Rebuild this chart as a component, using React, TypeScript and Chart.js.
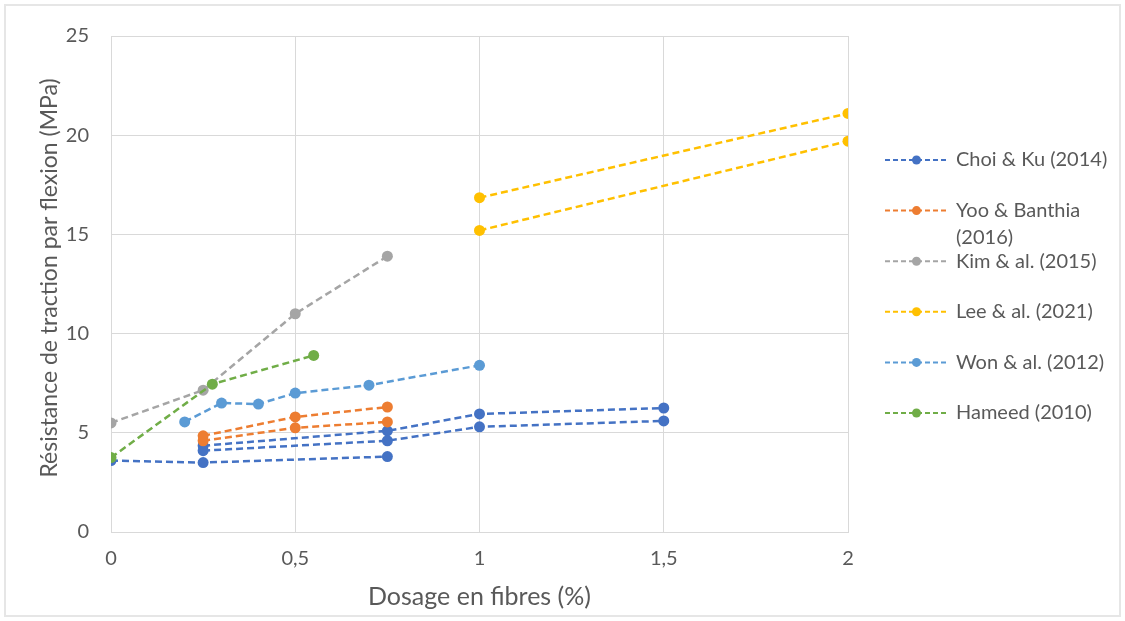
import React, { useEffect, useRef } from 'react';
import { Chart, registerables } from 'chart.js';

Chart.register(...registerables);

// ---- Data ----
const xTickValues = [0, 0.5, 1, 1.5, 2];
const yTickValues = [0, 5, 10, 15, 20, 25];

const xAxisTitle = 'Dosage en fibres (%)';
const yAxisTitle = 'Résistance de traction par flexion (MPa)';

const studyNames = [
  'Choi & Ku (2014)',
  'Yoo & Banthia (2016)',
  'Kim & al. (2015)',
  'Lee & al. (2021)',
  'Won & al. (2012)',
  'Hameed (2010)',
];
const studyColors = ['#4472C4', '#ED7D31', '#A5A5A5', '#FFC000', '#5B9BD5', '#70AD47'];

const choiKuDosage1 = [0, 0.25, 0.75];
const choiKuStrength1 = [3.6, 3.5, 3.8];
const choiKuDosage2 = [0.25, 0.75, 1, 1.5];
const choiKuStrength2 = [4.1, 4.6, 5.3, 5.6];
const choiKuDosage3 = [0.25, 0.75, 1, 1.5];
const choiKuStrength3 = [4.35, 5.1, 5.95, 6.25];

const yooDosage1 = [0.25, 0.5, 0.75];
const yooStrength1 = [4.85, 5.8, 6.3];
const yooDosage2 = [0.25, 0.5, 0.75];
const yooStrength2 = [4.6, 5.25, 5.55];

const kimDosage = [0, 0.25, 0.5, 0.75];
const kimStrength = [5.5, 7.15, 11.0, 13.9];

const leeDosage1 = [1, 2];
const leeStrength1 = [16.85, 21.1];
const leeDosage2 = [1, 2];
const leeStrength2 = [15.2, 19.7];

const wonDosage = [0.2, 0.3, 0.4, 0.5, 0.7, 1];
const wonStrength = [5.55, 6.5, 6.45, 7.0, 7.4, 8.4];

const hameedDosage = [0, 0.275, 0.55];
const hameedStrength = [3.75, 7.45, 8.9];

const seriesList: { study: number; x: number[]; y: number[] }[] = [
  { study: 0, x: choiKuDosage1, y: choiKuStrength1 },
  { study: 0, x: choiKuDosage2, y: choiKuStrength2 },
  { study: 0, x: choiKuDosage3, y: choiKuStrength3 },
  { study: 1, x: yooDosage1, y: yooStrength1 },
  { study: 1, x: yooDosage2, y: yooStrength2 },
  { study: 2, x: kimDosage, y: kimStrength },
  { study: 3, x: leeDosage1, y: leeStrength1 },
  { study: 3, x: leeDosage2, y: leeStrength2 },
  { study: 4, x: wonDosage, y: wonStrength },
  { study: 5, x: hameedDosage, y: hameedStrength },
];

const FONT = 'Lato, "Open Sans", "DejaVu Sans", sans-serif';
const TEXT_COLOR = '#595959';
const GRID_COLOR = '#d9d9d9';

const fmt = (v: number) => String(v).replace('.', ',');

const yTitlePlugin = {
  id: 'yTitle',
  afterDraw(chart: any) {
    const ctx: CanvasRenderingContext2D = chart.ctx;
    const area = chart.chartArea;
    ctx.save();
    ctx.font = `23px ${FONT}`;
    ctx.fillStyle = TEXT_COLOR;
    ctx.textAlign = 'center';
    ctx.textBaseline = 'middle';
    ctx.translate(area.left - 61, (area.top + area.bottom) / 2 - 6);
    ctx.rotate(-Math.PI / 2);
    ctx.fillText(yAxisTitle, 0, 0);
    ctx.restore();
  },
};

const sideLegend = {
  id: 'sideLegend',
  afterDraw(chart: any) {
    const ctx: CanvasRenderingContext2D = chart.ctx;
    const area = chart.chartArea;
    const lineX0 = area.right + 37;
    const lineX1 = area.right + 100;
    const markX = (lineX0 + lineX1) / 2;
    const textX = area.right + 108;
    const maxTextW = 158;
    const startY = 160;
    const stepY = 50.6;
    const lineH = 27;
    ctx.save();
    ctx.font = `20px ${FONT}`;
    ctx.textBaseline = 'middle';
    ctx.textAlign = 'left';
    studyNames.forEach((name, i) => {
      const y = startY + i * stepY;
      const c = studyColors[i];
      ctx.strokeStyle = c;
      ctx.lineWidth = 2;
      ctx.setLineDash([5, 3]);
      ctx.beginPath();
      ctx.moveTo(lineX0, y);
      ctx.lineTo(lineX1, y);
      ctx.stroke();
      ctx.setLineDash([]);
      ctx.fillStyle = c;
      ctx.beginPath();
      ctx.arc(markX, y, 4.5, 0, Math.PI * 2);
      ctx.fill();
      const words = name.split(' ');
      const lines: string[] = [];
      let cur = '';
      words.forEach((w) => {
        const test = cur ? cur + ' ' + w : w;
        if (ctx.measureText(test).width > maxTextW && cur) {
          lines.push(cur);
          cur = w;
        } else cur = test;
      });
      if (cur) lines.push(cur);
      ctx.fillStyle = TEXT_COLOR;
      lines.forEach((ln, k) => ctx.fillText(ln, textX, y + k * lineH));
    });
    ctx.restore();
  },
};

export default function App() {
  const canvasRef = useRef<HTMLCanvasElement | null>(null);

  useEffect(() => {
    if (!canvasRef.current) return;
    const datasets = seriesList.map((s) => ({
      label: studyNames[s.study],
      data: s.x.map((xv, i) => ({ x: xv, y: s.y[i] })),
      showLine: true,
      borderColor: studyColors[s.study],
      backgroundColor: studyColors[s.study],
      borderWidth: 2.5,
      borderDash: [7, 4],
      pointRadius: 5.5,
      pointHoverRadius: 5.5,
      pointBorderWidth: 0,
      order: 10 - s.study,
    }));
    const chart = new Chart(canvasRef.current, {
      type: 'scatter',
      data: { datasets },
      options: {
        animation: false,
        responsive: true,
        maintainAspectRatio: false,
        layout: { padding: { left: 10, right: 277, top: 36, bottom: 9 } },
        plugins: {
          legend: { display: false },
          tooltip: { enabled: false },
        },
        scales: {
          x: {
            type: 'linear',
            min: 0,
            max: 2,
            afterBuildTicks: (scale: any) => {
              scale.ticks = xTickValues.map((v) => ({ value: v }));
            },
            afterFit: (scale: any) => {
              scale.height = 80;
            },
            ticks: {
              callback: (v: any) => fmt(Number(v)),
              color: TEXT_COLOR,
              font: { family: FONT, size: 20 },
              padding: 15,
            },
            grid: { color: GRID_COLOR, drawTicks: false, lineWidth: 1 },
            border: { color: GRID_COLOR },
            title: {
              display: true,
              text: xAxisTitle,
              color: TEXT_COLOR,
              font: { family: FONT, size: 25 },
              padding: { top: 0, bottom: 0 },
            },
          },
          y: {
            type: 'linear',
            min: 0,
            max: 25,
            afterBuildTicks: (scale: any) => {
              scale.ticks = yTickValues.map((v) => ({ value: v }));
            },
            afterFit: (scale: any) => {
              scale.width = 101;
            },
            ticks: {
              color: TEXT_COLOR,
              font: { family: FONT, size: 20 },
              padding: 22,
            },
            grid: { color: GRID_COLOR, drawTicks: false, lineWidth: 1 },
            border: { color: GRID_COLOR },
            title: { display: false },
          },
        },
      },
      plugins: [sideLegend, yTitlePlugin],
    });
    return () => chart.destroy();
  }, []);

  return (
    <div style={{ position: 'fixed', left: 0, top: 0, width: 1125, height: 621, background: '#fff' }}>
      <div
        style={{
          position: 'absolute',
          left: 4,
          top: 4,
          width: 1113,
          height: 609,
          border: '2px solid #e6e6e6',
          pointerEvents: 'none',
        }}
      />
      <div style={{ position: 'absolute', left: 0, top: 0, width: 1125, height: 621 }}>
        <canvas ref={canvasRef} />
      </div>
    </div>
  );
}
